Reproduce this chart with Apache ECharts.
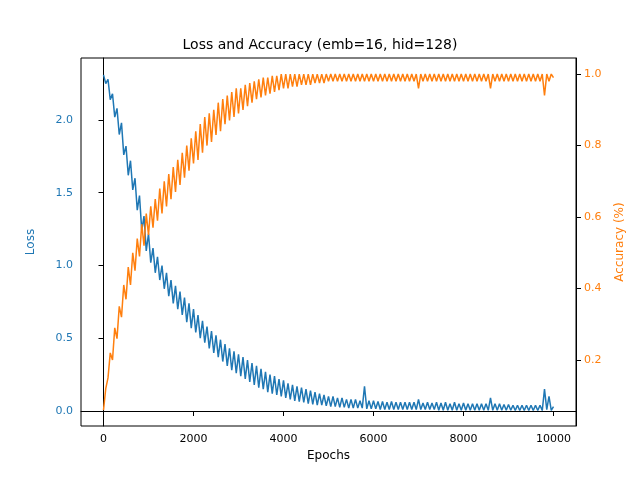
<!DOCTYPE html>
<html>
<head>
<meta charset="utf-8">
<script src="https://cdn.jsdelivr.net/npm/echarts@6/dist/echarts.min.js"></script>
<style>html,body{margin:0;background:#fff}</style>
</head>
<body>
<div id="chart" style="width:640px;height:480px"></div>
<script>
var epochs = [];
for (var e = 0; e <= 10000; e += 50) epochs.push(e);

var lossValues = [
  2.31,2.25, 2.28,2.14, 2.18,2.02, 2.08,1.90, 1.98,1.76, 1.82,1.62, 1.72,1.52, 1.60,1.38, 1.48,1.24, 1.34,1.10,
  1.22,1.02, 1.12,0.95, 1.06,0.90, 1.00,0.84, 0.95,0.79, 0.90,0.74, 0.86,0.70, 0.82,0.66, 0.78,0.61, 0.74,0.57,
  0.70,0.54, 0.66,0.50, 0.62,0.47, 0.58,0.43, 0.55,0.40, 0.52,0.37, 0.49,0.34, 0.46,0.31, 0.43,0.28, 0.41,0.26,
  0.39,0.24, 0.37,0.22, 0.35,0.20, 0.33,0.18, 0.31,0.16, 0.29,0.15, 0.27,0.13, 0.25,0.12, 0.24,0.11, 0.22,0.10,
  0.21,0.09, 0.19,0.08, 0.18,0.07, 0.17,0.065, 0.16,0.06, 0.15,0.05, 0.14,0.045, 0.13,0.04, 0.12,0.04, 0.11,0.035,
  0.10,0.03, 0.10,0.03, 0.09,0.025, 0.09,0.025, 0.08,0.02, 0.08,0.02, 0.08,0.02, 0.07,0.02, 0.17,0.015, 0.07,0.015,
  0.07,0.015, 0.065,0.01, 0.065,0.01, 0.06,0.01, 0.065,0.01, 0.06,0.01, 0.06,0.01, 0.06,0.01, 0.06,0.01, 0.06,0.01,
  0.08,0.01, 0.055,0.01, 0.06,0.01, 0.055,0.01, 0.06,0.005, 0.055,0.005, 0.06,0.005, 0.05,0.005, 0.06,0.005, 0.05,0.005,
  0.055,0.005, 0.05,0.005, 0.05,0.005, 0.05,0.005, 0.05,0.005, 0.05,0.005, 0.09,0.005, 0.05,0.005, 0.05,0.005, 0.045,0.005,
  0.045,0.005, 0.04,0.003, 0.04,0.003, 0.04,0.003, 0.04,0.003, 0.04,0.003, 0.04,0.003, 0.04,0.003, 0.15,0.01, 0.10,0.005,
  0.03
];

var accValues = [
  0.06,0.12, 0.15,0.22, 0.20,0.29, 0.26,0.35, 0.32,0.41, 0.37,0.46, 0.41,0.50, 0.45,0.54, 0.49,0.58, 0.52,0.61,
  0.55,0.63, 0.57,0.65, 0.59,0.68, 0.61,0.70, 0.63,0.72, 0.65,0.74, 0.67,0.76, 0.69,0.78, 0.71,0.80, 0.73,0.82,
  0.75,0.84, 0.76,0.86, 0.78,0.88, 0.80,0.89, 0.81,0.90, 0.83,0.92, 0.84,0.93, 0.86,0.94, 0.87,0.95, 0.88,0.96,
  0.89,0.96, 0.90,0.97, 0.91,0.975, 0.92,0.98, 0.93,0.985, 0.935,0.99, 0.94,0.99, 0.945,0.995, 0.95,0.995, 0.955,1.0,
  0.96,1.0, 0.96,1.0, 0.965,1.0, 0.965,1.0, 0.97,1.0, 0.97,1.0, 0.97,1.0, 0.975,1.0, 0.975,1.0, 0.975,1.0,
  0.98,1.0, 0.98,1.0, 0.98,1.0, 0.98,1.0, 0.98,1.0, 0.98,1.0, 0.98,1.0, 0.98,1.0, 0.98,1.0, 0.98,1.0,
  0.98,1.0, 0.98,1.0, 0.98,1.0, 0.98,1.0, 0.98,1.0, 0.98,1.0, 0.98,1.0, 0.98,1.0, 0.98,1.0, 0.98,1.0,
  0.96,1.0, 0.98,1.0, 0.98,1.0, 0.98,1.0, 0.98,1.0, 0.98,1.0, 0.98,1.0, 0.98,1.0, 0.98,1.0, 0.98,1.0,
  0.98,1.0, 0.98,1.0, 0.98,1.0, 0.98,1.0, 0.98,1.0, 0.98,1.0, 0.96,1.0, 0.98,1.0, 0.98,1.0, 0.98,1.0,
  0.98,1.0, 0.98,1.0, 0.98,1.0, 0.98,1.0, 0.98,1.0, 0.98,1.0, 0.98,1.0, 0.98,1.0, 0.94,1.0, 0.98,1.0,
  0.99
];

var xTicks = [0, 2000, 4000, 6000, 8000, 10000];
var leftTicks = [0.0, 0.5, 1.0, 1.5, 2.0];
var rightTicks = [0.2, 0.4, 0.6, 0.8, 1.0];

var App = {};
App.init = function () {
  var chart = echarts.init(document.getElementById('chart'));
  var font = 'DejaVu Sans';
  var blue = '#1f77b4', orange = '#ff7f0e';
  var pair = function (ys) { return epochs.map(function (x, i) { return [x, ys[i]]; }); };

  chart.setOption({
    animation: false,
    textStyle: { fontFamily: font },
    title: { text: 'Loss and Accuracy (emb=16, hid=128)', left: 'center', top: 33,
      textStyle: { fontFamily: font, fontSize: 14, fontWeight: 'normal', color: '#000' } },
    grid: { left: 81, right: 64, top: 58, bottom: 54, show: true, borderColor: '#000', borderWidth: 1 },
    xAxis: {
      type: 'value', min: -500, max: 10500, interval: 500,
      name: 'Epochs', nameLocation: 'middle', nameGap: 24,
      nameTextStyle: { color: '#000', fontSize: 12 },
      axisLine: { lineStyle: { color: '#000' } },
      axisTick: { inside: false, lineStyle: { color: '#000' }, customValues: xTicks },
      axisLabel: { color: '#000', fontSize: 11, customValues: xTicks, formatter: function (v) { return String(v); } },
      splitLine: { show: false }
    },
    yAxis: [{
      type: 'value', min: -0.103, max: 2.426,
      name: 'Loss', nameLocation: 'middle', nameGap: 44,
      nameTextStyle: { color: blue, fontSize: 12 },
      axisLine: { show: true, lineStyle: { color: '#000' } },
      axisTick: { show: true, lineStyle: { color: '#000' }, customValues: leftTicks },
      axisLabel: { color: blue, fontSize: 11, customValues: leftTicks, formatter: function (v) { return v.toFixed(1); } },
      splitLine: { show: false }
    }, {
      type: 'value', min: 0.0154, max: 1.045, position: 'right',
      name: 'Accuracy (%)', nameLocation: 'middle', nameGap: 38, nameRotate: 90,
      nameTextStyle: { color: orange, fontSize: 12 },
      axisLine: { show: true, lineStyle: { color: '#000' } },
      axisTick: { show: true, lineStyle: { color: '#000' }, customValues: rightTicks },
      axisLabel: { color: orange, fontSize: 11, customValues: rightTicks, formatter: function (v) { return v.toFixed(1); } },
      splitLine: { show: false }
    }],
    series: [{
      type: 'line', yAxisIndex: 0, data: pair(lossValues), showSymbol: false,
      lineStyle: { color: blue, width: 1.5 }, itemStyle: { color: blue }
    }, {
      type: 'line', yAxisIndex: 1, data: pair(accValues), showSymbol: false,
      lineStyle: { color: orange, width: 1.5 }, itemStyle: { color: orange }
    }]
  });
};
App.init();
</script>
</body>
</html>
